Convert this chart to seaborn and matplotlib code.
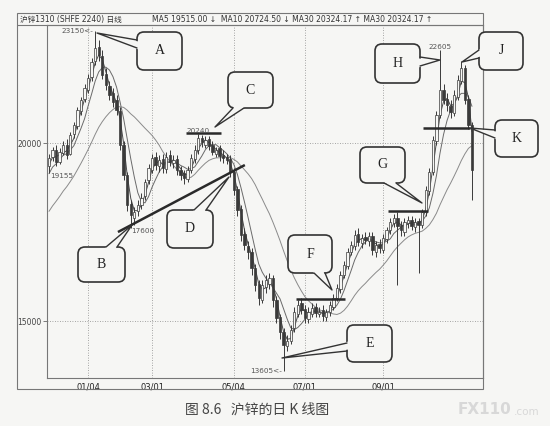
import numpy as np
import pandas as pd
import matplotlib
matplotlib.use('Agg')
import matplotlib.pyplot as plt
from matplotlib.patches import FancyBboxPatch, Polygon, Rectangle
from matplotlib.lines import Line2D
from matplotlib.transforms import Affine2D
import seaborn as sns

# daily K data (one candle ~ 1.6 trading days)
opens = [19350, 19600, 19800, 19480, 19720, 19950, 19700, 20250, 20480, 20900,
         21250, 21500, 21850, 22300, 22700, 22450, 21950, 21600, 21400, 21200,
         20900, 19950, 19100, 18300, 17900, 18100, 18250, 18500, 18950, 19250,
         19600, 19350, 19550, 19280, 19650, 19450, 19550, 19250, 19150, 19000,
         19250, 19550, 19800, 20150, 19950, 20100, 19950, 19700, 19850, 19650,
         19600, 19550, 19200, 18700, 18150, 17450, 17100, 16950, 16500, 16050,
         15600, 15950, 16050, 16200, 15600, 15100, 14700, 14300, 14450, 14800,
         15200, 15500, 15350, 15050, 15200, 15400, 15200, 15300, 15100, 15250,
         15400, 15650, 15900, 16300, 16550, 16950, 17100, 17450, 17200, 17350,
         17250, 17400, 16950, 17150, 17000, 17300, 17550, 17750, 17900, 17700,
         17500, 17750, 17850, 17650, 17800, 17700, 18050, 18650, 19200, 20050,
         20800, 21500, 21250, 21050, 20850, 21300, 21750, 22100, 21250, 20500]
closes = [19580, 19805, 19465, 19745, 19945, 19665, 20225, 20505, 20925, 21210,
          21545, 21825, 22275, 22670, 22470, 21910, 21630, 21350, 21150, 20925,
          19945, 19100, 18260, 17980, 18060, 18260, 18455, 18905, 19300, 19580,
          19380, 19520, 19300, 19605, 19465, 19520, 19240, 19100, 19015, 19240,
          19580, 19805, 20140, 20030, 20085, 19915, 19745, 19805, 19635, 19580,
          19520, 19185, 18680, 18120, 17415, 17135, 16940, 16490, 16010, 15645,
          16010, 16150, 16210, 15590, 15085, 14690, 14325, 14450, 14745, 15255,
          15450, 15310, 15085, 15255, 15365, 15225, 15255, 15140, 15255, 15450,
          15645, 15925, 16290, 16575, 16940, 17135, 17415, 17220, 17330, 17275,
          17385, 16995, 17135, 17050, 17330, 17555, 17780, 17895, 17670, 17555,
          17780, 17835, 17670, 17780, 17695, 18060, 18680, 19185, 20085, 20785,
          21490, 21210, 21065, 20870, 21350, 21770, 22105, 21210, 20505, 19240]
highs = [19700, 19900, 19950, 19850, 20050, 20100, 20300, 20600, 21000, 21300,
         21650, 21950, 22400, 23150, 22900, 22600, 22100, 21750, 21550, 21350,
         21000, 20050, 19200, 18400, 18200, 18400, 18600, 19000, 19400, 19700,
         19750, 19650, 19700, 19750, 19800, 19650, 19650, 19350, 19250, 19350,
         19700, 19950, 20240, 20220, 20200, 20200, 20050, 19900, 19950, 19800,
         19700, 19650, 19300, 18800, 18250, 17600, 17250, 17050, 16600, 16150,
         16150, 16300, 16350, 16300, 15700, 15200, 14800, 14600, 14900, 15400,
         15600, 15650, 15450, 15400, 15500, 15500, 15400, 15450, 15350, 15550,
         15750, 16050, 16400, 16700, 17050, 17250, 17550, 17600, 17450, 17500,
         17500, 17500, 17250, 17300, 17450, 17650, 17900, 18000, 18050, 17800,
         17900, 17950, 17950, 17900, 17900, 18150, 18800, 19300, 20200, 20900,
         22605, 21650, 21400, 21200, 21500, 21900, 22300, 22200, 21350, 20600]
lows = [19155, 19500, 19350, 19400, 19650, 19550, 19650, 20150, 20400, 20800,
        21150, 21400, 21750, 22200, 22300, 21800, 21500, 21200, 21000, 20800,
        19800, 18950, 18100, 17600, 17700, 17950, 18150, 18400, 18850, 19150,
        19250, 19200, 19150, 19150, 19350, 19300, 19100, 18950, 18850, 18900,
        19150, 19450, 19700, 19900, 19850, 19800, 19650, 19600, 19500, 19450,
        19400, 19050, 18550, 17950, 17250, 17000, 16750, 16300, 15850, 15450,
        15500, 15800, 15900, 15400, 14950, 14500, 13605, 14150, 14350, 14700,
        15100, 15200, 14950, 14950, 15100, 15100, 15100, 15000, 15000, 15150,
        15300, 15550, 15800, 16200, 16450, 16850, 17000, 17100, 17050, 17150,
        17100, 16850, 16800, 16900, 16900, 17200, 17450, 17650, 16000, 17400,
        17400, 17600, 17550, 17500, 16350, 17600, 17950, 18550, 19100, 19950,
        20700, 21100, 20900, 20700, 20750, 21200, 21650, 21100, 20400, 18400]
# closes before the visible window (seed the moving averages)
prior_closes = [16900, 17000, 17150, 17100, 17300, 17450, 17600, 17550, 17800,
                17950, 18100, 18300, 18500, 18700, 18900, 19050, 19200, 19400]
ma_windows = [3, 6, 19]
ma_colors = ['#4a4a4a', '#6a6a6a', '#8a8a8a']

tick_pos = [11, 29, 52, 72, 94]
tick_labels = ['01/04', '03/01', '05/04', '07/01', '09/01']
ytick_pos = [15000, 20000]

# marked extremes: (candle, price, text, ha, va)
extremes = [(13, 23150, '23150<-', 'right', 'center'),
            (23, 17600, '17600', 'left', 'top'),
            (42, 20240, '20240', 'center', 'bottom'),
            (0, 19155, '19155', 'left', 'top'),
            (66, 13605, '13605<-', 'right', 'center'),
            (110, 22605, '22605', 'center', 'bottom')]

# hand-drawn reference lines: (i0, i1, p0, p1)
ref_lines = [(38.5, 48.4, 20280, 20280),
             (19.4, 55.1, 17500, 19382),
             (69.5, 83.3, 15618, 15618),
             (95.4, 106.6, 18090, 18090),
             (105.2, 118.4, 20420, 20420)]

# callouts: letter, box (x0, y0, x1, y1), tail base 1, tail base 2, tip  (pixels, top-left origin)
callouts = [('A', (137, 32, 182, 70), (137, 40), (137, 48), (97, 33)),
            ('B', (78, 247, 125, 282), (106, 247), (117, 247), (132, 225)),
            ('C', (228, 72, 273, 108), (233, 108), (244, 108), (215, 127)),
            ('D', (167, 210, 213, 248), (194, 210), (206, 210), (229, 177)),
            ('E', (347, 325, 392, 362), (347, 343), (347, 351), (282, 358)),
            ('F', (288, 235, 332, 273), (314, 273), (325, 273), (332, 290)),
            ('G', (360, 147, 405, 183), (384, 183), (396, 183), (422, 203)),
            ('H', (375, 44, 420, 83), (420, 57), (420, 66), (440, 60)),
            ('J', (479, 32, 523, 70), (479, 50), (479, 58), (462, 62)),
            ('K', (495, 120, 538, 157), (495, 130), (495, 138), (470, 128))]

W, H = 550, 426
bg = '#f6f6f4'
ink = '#333333'

sns.set_theme(style='white')
plt.rcParams['font.family'] = ['DejaVu Sans', 'Noto Sans CJK SC']

fig = plt.figure(figsize=(W / 100, H / 100), dpi=100, facecolor=bg)
ax = fig.add_axes([47 / W, 1 - 378 / H, 436 / W, 353 / H], facecolor=bg)
pxt = Affine2D().scale(1 / W, -1 / H).translate(0, 1) + fig.transFigure

n = len(closes)
idx = np.arange(n)
o = np.array(opens); c = np.array(closes)
hi = np.array(highs); lo = np.array(lows)

# moving averages
full = pd.Series(prior_closes + closes, dtype=float)
for w, col in zip(ma_windows, ma_colors):
    ma = full.rolling(w).mean().iloc[len(prior_closes):].to_numpy()
    sns.lineplot(x=idx, y=ma, ax=ax, color=col, lw=0.7, zorder=3)

# candles
ax.vlines(idx, lo, hi, color='#3a3a3a', lw=0.7, zorder=4)
up = c >= o
ax.bar(idx[up], (c - o)[up], bottom=o[up], width=0.66, color=bg,
       edgecolor='#3a3a3a', lw=0.5, zorder=5)
ax.bar(idx[~up], (o - c)[~up], bottom=c[~up], width=0.66, color='#3a3a3a',
       edgecolor='#3a3a3a', lw=0.5, zorder=5)

for i0, i1, p0, p1 in ref_lines:
    ax.plot([i0, i1], [p0, p1], color='#2a2a2a', lw=1.8, zorder=6, solid_capstyle='butt')

for i, p, s, ha, va in extremes:
    dx = {'right': -0.4, 'left': 0.2, 'center': 0}[ha]
    ax.text(i + dx, p, s, ha=ha, va=va, fontsize=5.2, color='#555', zorder=7)

ax.set_xlim(-0.56, 122.1)
ax.set_ylim(13400, 23315)
ax.set_xticks(tick_pos)
ax.set_xticklabels(tick_labels, fontsize=6, color='#222')
ax.set_yticks(ytick_pos)
ax.set_yticklabels([str(v) for v in ytick_pos], fontsize=5.5, color='#444')
ax.tick_params(axis='x', length=0, pad=3)
ax.tick_params(axis='y', length=3, width=0.6, color='#666', pad=1, left=True)
ax.grid(True, ls=(0, (1, 2)), color='#8a8a8a', lw=0.6)
ax.set_xlabel(''); ax.set_ylabel('')
for sp in ax.spines.values():
    sp.set_color('#777'); sp.set_linewidth(0.8)

# outer frame and header band
fig.add_artist(Rectangle((17, 13), 466, 376, transform=pxt, fill=False,
                         ec='#777', lw=0.8, zorder=1))
fig.add_artist(Line2D([17, 483], [25, 25], transform=pxt, color='#777', lw=0.8))
fig.text(20, 19.5, '沪锌1310 (SHFE 2240) 日线', transform=pxt, fontsize=5.5,
         color='#333', va='center')
fig.text(152, 19.5, 'MA5 19515.00 ↓  MA10 20724.50 ↓ MA30 20324.17 ↑ MA30 20324.17 ↑',
         transform=pxt, fontsize=5.5, color='#333', va='center')

# callout bubbles
for letter, (x0, y0, x1, y1), b1, b2, tip in callouts:
    box = FancyBboxPatch((x0, y0), x1 - x0, y1 - y0,
                         boxstyle='round,pad=0,rounding_size=7', transform=pxt,
                         fc=bg, ec=ink, lw=1.2, zorder=10)
    fig.add_artist(box)
    cx, cy = (b1[0] + b2[0]) / 2, (b1[1] + b2[1]) / 2
    mx, my = (x0 + x1) / 2, (y0 + y1) / 2
    sx = np.sign(mx - cx) * 1.5; sy = np.sign(my - cy) * 1.5
    fig.add_artist(Polygon([(b1[0] + sx, b1[1] + sy), tip, (b2[0] + sx, b2[1] + sy)],
                           closed=True, transform=pxt, fc=bg, ec='none', zorder=11))
    fig.add_artist(Line2D([b1[0], tip[0], b2[0]], [b1[1], tip[1], b2[1]],
                          transform=pxt, color=ink, lw=1.0, zorder=12))
    fig.text(mx, my, letter, transform=pxt, ha='center', va='center',
             fontsize=10, color='#222', family='Liberation Serif', zorder=13)

# caption and watermark
fig.text(257, 410, '图 8.6   沪锌的日 K 线图', transform=pxt, ha='center', va='center',
         fontsize=10, color='#444', family=['Noto Sans CJK SC', 'DejaVu Sans'])
fig.text(458, 409, 'FX110', transform=pxt, ha='left', va='center', fontsize=11,
         fontweight='bold', color='#d8d8d8')
fig.text(514, 412, '.com', transform=pxt, ha='left', va='center', fontsize=7.5,
         color='#d8d8d8')

fig.savefig('out.png', dpi=100, facecolor=bg)
